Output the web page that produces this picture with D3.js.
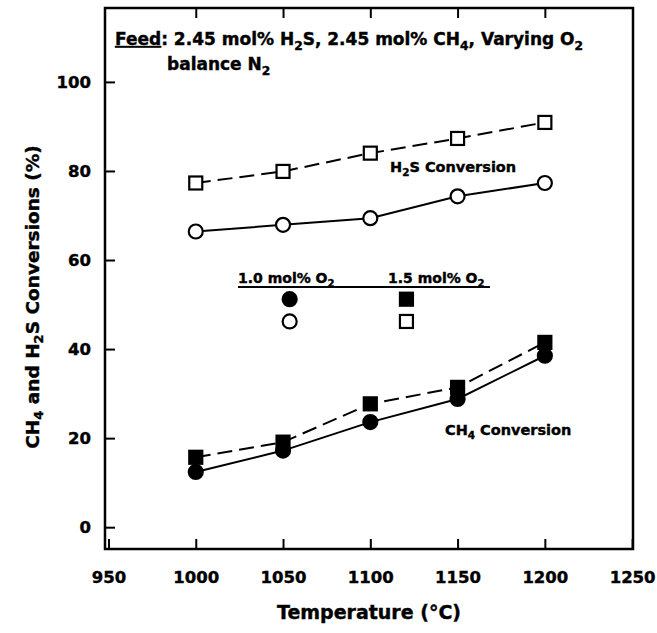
<!DOCTYPE html>
<html>
<head>
<meta charset="utf-8">
<script src="https://cdn.jsdelivr.net/npm/d3@7"></script>
<style>
  body { margin: 0; background: #fff; }
  svg text { font-family: "DejaVu Sans", "Liberation Sans", sans-serif; font-weight: bold; fill: #000; stroke: #000; stroke-width: 0.4px; }
</style>
</head>
<body>
<div class="chart"></div>
<script>
// data
const temps = [1000, 1050, 1100, 1150, 1200];
const h2sLowO2 = [66.4, 67.9, 69.4, 74.3, 77.3];   // open circles, 1.0 mol% O2
const h2sHighO2 = [77.3, 79.9, 84.0, 87.3, 90.9];  // open squares, 1.5 mol% O2
const ch4LowO2 = [12.4, 17.2, 23.6, 28.8, 38.5];   // filled circles, 1.0 mol% O2
const ch4HighO2 = [15.7, 19.1, 27.7, 31.4, 41.5];  // filled squares, 1.5 mol% O2
const xTicks = [950, 1000, 1050, 1100, 1150, 1200, 1250];
const yTicks = [0, 20, 40, 60, 80, 100];

const width = 657;
const height = 633;
const box = { left: 105, right: 633, top: 8, bottom: 549 };

const svg = d3.select('.chart')
  .append('svg')
  .attr('width', width)
  .attr('height', height);

svg.append('rect').attr('width', width).attr('height', height).attr('fill', '#fff');

const x = d3.scaleLinear().domain([948, 1250.5]).range([box.left, box.right]);
const y = d3.scaleLinear().domain([-4.9, 116.6]).range([box.bottom, box.top]);

// frame
svg.append('rect')
  .attr('x', box.left).attr('y', box.top)
  .attr('width', box.right - box.left).attr('height', box.bottom - box.top)
  .attr('fill', 'none').attr('stroke', '#000').attr('stroke-width', 2.5);

// axes, ticks pointing inward
const xAxis = d3.axisBottom(x).tickValues(xTicks).tickSize(-10).tickPadding(22).tickFormat(d3.format('d'));
const gx = svg.append('g').attr('transform', 'translate(0,' + box.bottom + ')').call(xAxis);
const gxTop = svg.append('g').attr('transform', 'translate(0,' + box.top + ')')
  .call(d3.axisTop(x).tickValues(xTicks.slice(1, -1)).tickSize(-10).tickFormat(''));
const yAxis = d3.axisLeft(y).tickValues(yTicks).tickSize(-10).tickPadding(14);
const gy = svg.append('g').attr('transform', 'translate(' + box.left + ',0)').call(yAxis);

[gx, gxTop, gy].forEach(function(g) {
  g.select('.domain').remove();
  g.selectAll('.tick line').attr('stroke', '#000').attr('stroke-width', 2);
  g.selectAll('.tick text').style('font-size', '16.5px');
});

// series
const seriesList = [
  { vals: h2sHighO2, shape: 'square', filled: false, dashed: true },
  { vals: h2sLowO2, shape: 'circle', filled: false, dashed: false },
  { vals: ch4HighO2, shape: 'square', filled: true, dashed: true },
  { vals: ch4LowO2, shape: 'circle', filled: true, dashed: false }
];

const line = d3.line().x((d) => x(d[0])).y((d) => y(d[1]));

function drawMarker(g, shape, filled, cx, cy) {
  if (shape === 'circle') {
    g.append('circle').attr('cx', cx).attr('cy', cy).attr('r', 7)
      .attr('fill', filled ? '#000' : '#fff').attr('stroke', '#000').attr('stroke-width', 2.2);
  } else {
    g.append('rect').attr('x', cx - 6.5).attr('y', cy - 6.5).attr('width', 13).attr('height', 13)
      .attr('fill', filled ? '#000' : '#fff').attr('stroke', '#000').attr('stroke-width', 2.2);
  }
}

seriesList.forEach(function(s) {
  const pts = temps.map((t, i) => [t, s.vals[i]]);
  svg.append('path')
    .attr('d', line(pts))
    .attr('fill', 'none')
    .attr('stroke', '#000')
    .attr('stroke-width', 2)
    .attr('stroke-dasharray', s.dashed ? '15,7' : null);
  const g = svg.append('g');
  pts.forEach((p) => drawMarker(g, s.shape, s.filled, x(p[0]), y(p[1])));
});

// legend
const legendItems = [
  { label: '1.0 mol% O', sub: '2', tx: 238, xv: 1053.8, shape: 'circle' },
  { label: '1.5 mol% O', sub: '2', tx: 388, xv: 1120.7, shape: 'square' }
];
const legendFilledY = 51.2;
const legendOpenY = 46.2;

legendItems.forEach(function(item) {
  const t = svg.append('text').attr('x', item.tx).attr('y', 283).style('font-size', '14px');
  t.append('tspan').text(item.label);
  t.append('tspan').attr('dy', 4).style('font-size', '10px').text(item.sub);
  const g = svg.append('g');
  drawMarker(g, item.shape, true, x(item.xv), y(legendFilledY));
  drawMarker(g, item.shape, false, x(item.xv), y(legendOpenY));
});
svg.append('line').attr('x1', 238).attr('x2', 490).attr('y1', 287).attr('y2', 287)
  .attr('stroke', '#000').attr('stroke-width', 2);

// helper for text with subscripts: parts = [[text, isSub, underline], ...]
function richText(tx, ty, size, parts) {
  const t = svg.append('text').attr('x', tx).attr('y', ty).style('font-size', size + 'px');
  let down = false;
  parts.forEach(function(p) {
    const span = t.append('tspan').text(p[0]);
    if (p[1] && !down) { span.attr('dy', size * 0.3).style('font-size', (size * 0.72) + 'px'); down = true; }
    else if (!p[1] && down) { span.attr('dy', -size * 0.3); down = false; }
    if (p[2]) span.style('text-decoration', 'underline');
  });
  return t;
}

richText(115, 45, 17, [['Feed', false, true], [': 2.45 mol% H', false], ['2', true], ['S, 2.45 mol% CH', false], ['4', true], [', Varying O', false], ['2', true]]);
richText(167, 70, 17, [['balance N', false], ['2', true]]);
richText(390, 172, 14.5, [['H', false], ['2', true], ['S Conversion', false]]);
richText(445, 435, 14.5, [['CH', false], ['4', true], [' Conversion', false]]);

// axis titles
svg.append('text')
  .attr('x', (box.left + box.right) / 2).attr('y', 619)
  .attr('text-anchor', 'middle')
  .style('font-size', '19px')
  .text('Temperature (°C)');

const yt = svg.append('text')
  .attr('transform', 'translate(39,297) rotate(-90)')
  .attr('text-anchor', 'middle')
  .style('font-size', '18.5px');
yt.append('tspan').text('CH');
yt.append('tspan').attr('dy', 4).style('font-size', '13px').text('4');
yt.append('tspan').attr('dy', -4).text(' and H');
yt.append('tspan').attr('dy', 4).style('font-size', '13px').text('2');
yt.append('tspan').attr('dy', -4).text('S Conversions (%)');
</script>
</body>
</html>
